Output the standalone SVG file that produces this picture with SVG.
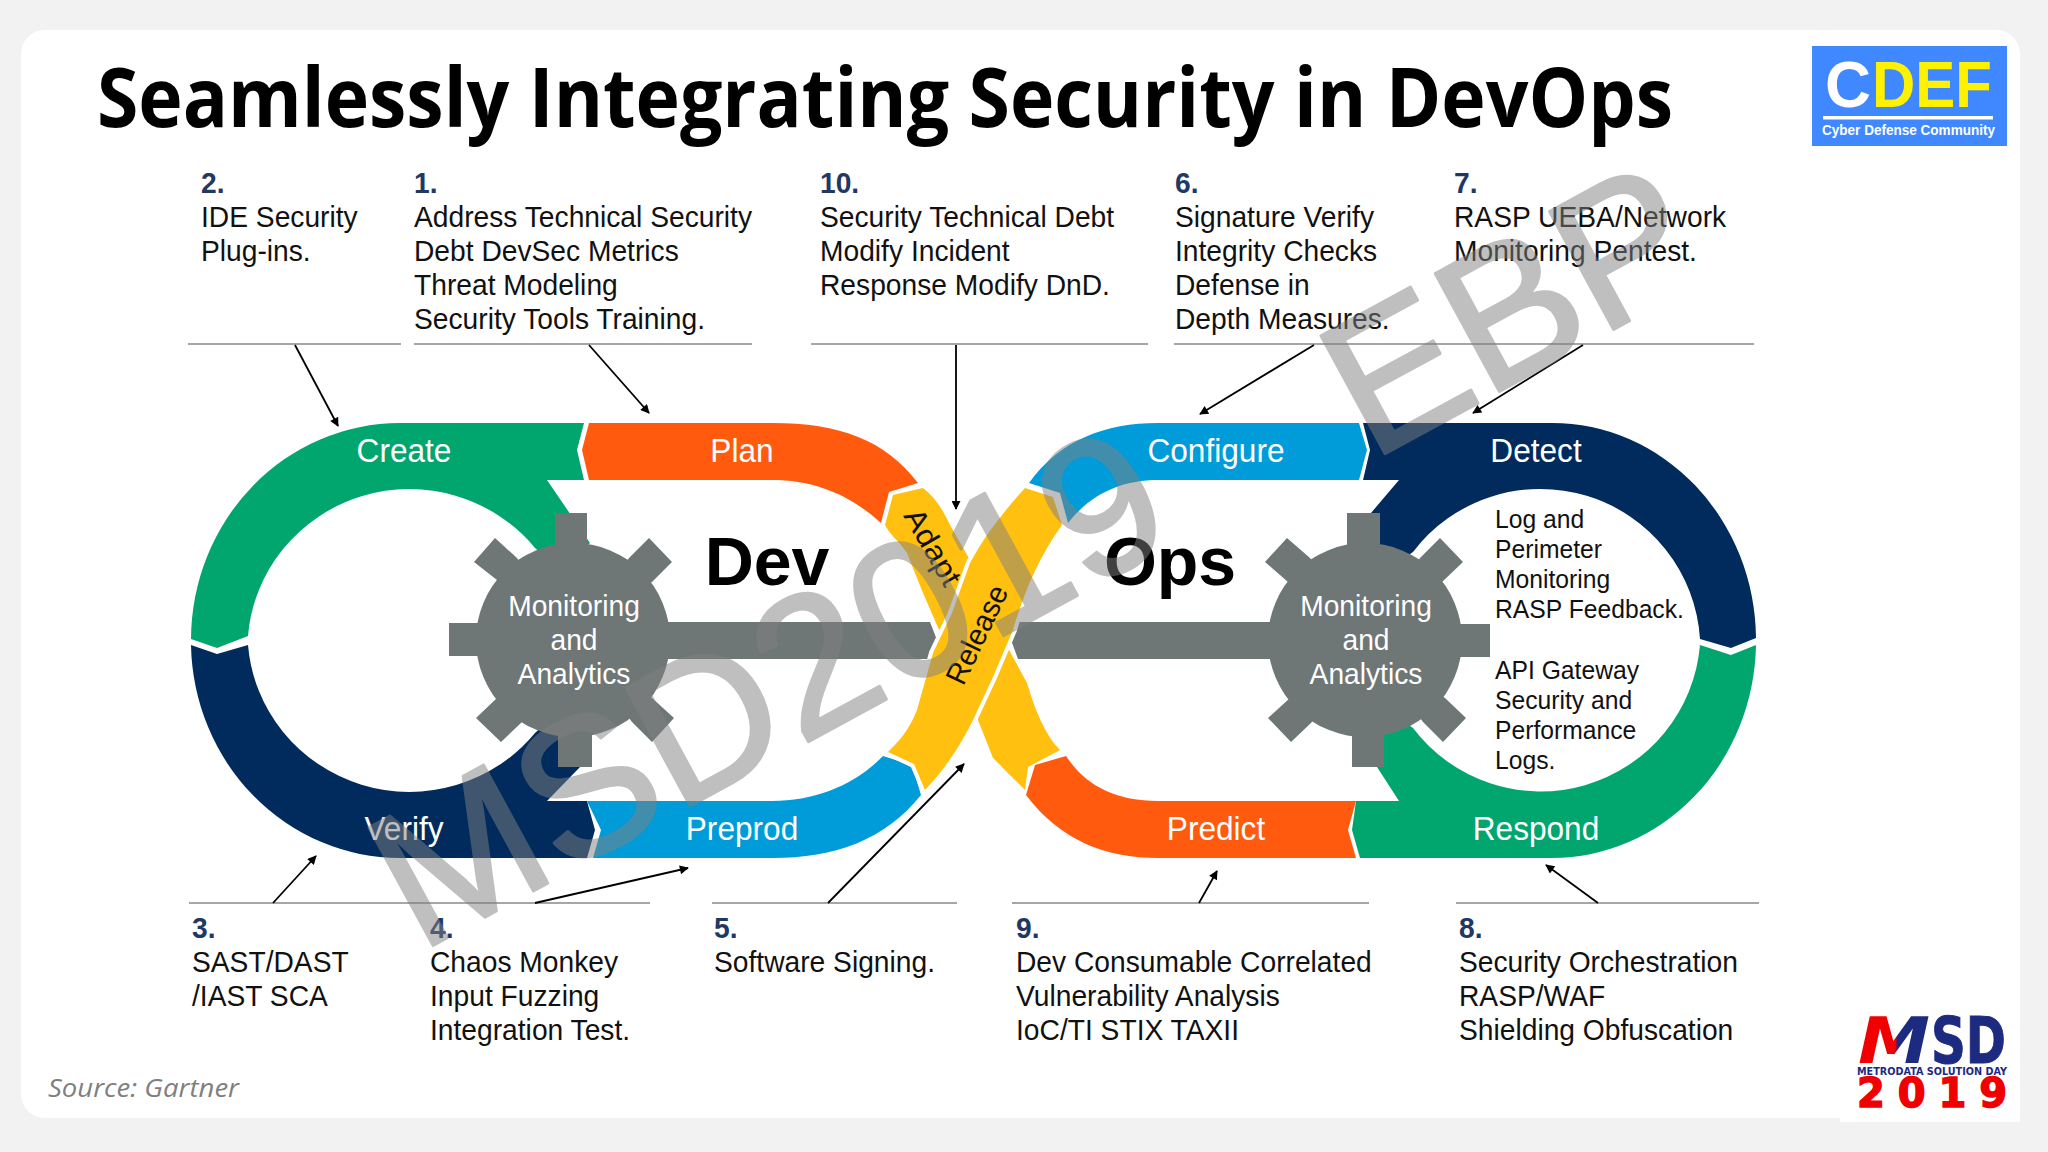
<svg xmlns="http://www.w3.org/2000/svg" width="2048" height="1152" viewBox="0 0 2048 1152">
<style>
text{font-family:"Liberation Sans",Arial,sans-serif}
.t{font-size:30px;fill:#111}
.n{font-size:30px;font-weight:700;fill:#1f3864}
.r{font-size:34px;fill:#fff;text-anchor:middle}
.g{font-size:30px;fill:#fff;text-anchor:middle}
.s{font-size:26px;fill:#111}
.b{font-size:30px;fill:#111;text-anchor:middle}
.big{font-size:68px;font-weight:700;fill:#000;text-anchor:middle}
.rule{stroke:#a6a6a6;stroke-width:2;fill:none}
.c{stroke:#000;stroke-width:1.8;fill:none;marker-end:url(#ah)}
.gear{fill:#6e7676}
</style>
<defs>
<marker id="ah" viewBox="0 0 10 10" refX="9" refY="5" markerWidth="12" markerHeight="9" orient="auto" markerUnits="userSpaceOnUse"><path d="M0,0L10,5L0,10z" fill="#000"/></marker>
<linearGradient id="mg" x1="0" y1="0" x2="1" y2="0"><stop offset=".52" stop-color="#f00000"/><stop offset=".55" stop-color="#1c2a80"/></linearGradient>
</defs>
<rect width="2048" height="1152" fill="#f2f2f2"/>
<rect x="21" y="30" width="1999" height="1088" rx="24" fill="#fff"/>
<rect x="1840" y="1000" width="180" height="122" fill="#fff"/>
<text x="97" y="127" font-size="82" font-weight="700" textLength="1576" lengthAdjust="spacingAndGlyphs" style="font-family:'Open Sans',sans-serif">Seamlessly Integrating Security in DevOps</text>
<text x="48" y="1097" font-size="25" font-style="italic" fill="#7f7f7f" textLength="191" lengthAdjust="spacingAndGlyphs" style="font-family:'Open Sans',sans-serif">Source: Gartner</text>

<g id="logo-cdef">
<rect x="1812" y="46" width="195" height="100" fill="#3f88ff"/>
<text x="1825" y="107" font-size="64" font-weight="700" fill="#fff" textLength="46" lengthAdjust="spacingAndGlyphs">C</text>
<text x="1872" y="107" font-size="64" font-weight="700" fill="#fff200" textLength="120" lengthAdjust="spacingAndGlyphs">DEF</text>
<rect x="1823" y="116" width="170" height="3.5" fill="#fff"/>
<text x="1822" y="135" font-size="14" font-weight="700" fill="#fff" textLength="173" lengthAdjust="spacingAndGlyphs">Cyber Defense Community</text>
</g>
<g id="logo-msd" style="font-weight:700">
<text x="1858" y="1063" font-size="64" font-style="italic" fill="url(#mg)" textLength="72" lengthAdjust="spacingAndGlyphs" style="font-family:'DejaVu Sans',sans-serif">M</text>
<text x="1931" y="1063" font-size="64" fill="#1c2a80" stroke="#1c2a80" textLength="75" lengthAdjust="spacingAndGlyphs" style="font-family:'DejaVu Sans',sans-serif">SD</text>
<text x="1857" y="1075" font-size="11" fill="#1c2a80" textLength="150" lengthAdjust="spacingAndGlyphs" style="font-family:'DejaVu Sans',sans-serif">METRODATA SOLUTION DAY</text>
<text x="1857" y="1107" font-size="40" fill="#f00000" stroke="#f00000" stroke-width="1.5" textLength="150" style="font-family:'DejaVu Sans',sans-serif">2019</text>
</g>

<g id="dev-ops-loop">
<g id="stage-adapt"><path fill="#ffc010" d="M893,495L923,488C935,497 943,510 950,525L970,560L1008,648L1027,683C1035,710 1045,735 1060,750L1028,767L1025,790C1010,775 1000,765 993,758L978,720L940,632L923,593L907,553C898,540 890,535 885,525Z"/></g>
<g id="stage-create"><path fill="#00a66e" d="M191,639A209,217 0 0 1 400,423L584,423L577,450L584,480L547,480L590,543L560,570L535,548A162,160 0 0 0 248,636L217,648Z"/><text class="r" transform="translate(404,462) scale(.93,1)">Create</text></g>
<g id="stage-plan"><path fill="#ff5a0d" d="M589,423L772,423C840,423 885,440 918,483L889,492L881,523C850,495 815,480 772,480L589,480L582,450Z"/><text class="r" transform="translate(742,462) scale(.93,1)">Plan</text></g>
<g id="stage-verify"><path fill="#002b5c" d="M191,645L217,654L248,645A162,160 0 0 0 535,733L560,710L580,767L547,801L587,801L595,830L587,858L400,858A209,217 0 0 1 191,645Z"/><text class="r" transform="translate(404,840) scale(.93,1)">Verify</text></g>
<g id="stage-preprod"><path fill="#009bd9" d="M587,801L772,801C815,801 855,785 883,756L912,765L921,795C885,840 835,858 772,858L593,858L601,830Z"/><text class="r" transform="translate(742,840) scale(.93,1)">Preprod</text></g>
<g id="stage-configure"><path fill="#009bd9" d="M1029,483C1060,440 1105,423 1158,423L1359,423L1367,450L1359,480L1158,480C1120,480 1090,495 1068,523L1060,493Z"/><text class="r" transform="translate(1216,462) scale(.93,1)">Configure</text></g>
<g id="stage-detect"><path fill="#002b5c" d="M1363,423L1552,423A204,217 0 0 1 1756,638L1731,648L1700,639A160,160 0 0 0 1413,552L1380,575L1371,513L1399,480L1363,480L1370,450Z"/><text class="r" transform="translate(1536,462) scale(.93,1)">Detect</text></g>
<g id="stage-respond"><path fill="#00a66e" d="M1756,645A204,217 0 0 1 1552,858L1360,858L1352,830L1356,801L1399,801L1377,767L1380,705L1413,728A160,160 0 0 0 1700,645L1731,655Z"/><text class="r" transform="translate(1536,840) scale(.93,1)">Respond</text></g>
<g id="stage-predict"><path fill="#ff5a0d" d="M1066,756L1035,765L1026,795C1060,840 1105,858 1158,858L1356,858L1348,830L1356,801L1158,801C1115,801 1085,785 1066,756Z"/><text class="r" transform="translate(1216,840) scale(.93,1)">Predict</text></g>
<g id="gear-dev">
<circle class="gear" cx="573" cy="640" r="97"/>
<path class="gear" d="M555,513H587V560H555ZM558,720H592V767H558ZM449,623H520V656H449ZM474,562L495,538L517,558L573,640L497,580ZM672,562L649,538L629,558L573,640L652,582ZM476,718L501,742L522,722L573,640L497,698ZM674,718L652,742L632,722L573,640L652,698ZM620,622H930L937,640L930,659H620Z"/>
<text class="g" transform="translate(574,616) scale(.94,1)">Monitoring</text>
<text class="g" transform="translate(574,650) scale(.94,1)">and</text>
<text class="g" transform="translate(574,684) scale(.94,1)">Analytics</text>
</g>
<g id="gear-ops">
<circle class="gear" cx="1365" cy="640" r="97"/>
<path class="gear" d="M1347,513H1380V560H1347ZM1352,720H1384V767H1352ZM1420,624H1490V657H1420ZM1265,562L1287,538L1310,558L1365,640L1288,582ZM1463,562L1440,538L1420,558L1365,640L1442,582ZM1268,718L1291,742L1312,722L1365,640L1290,698ZM1466,718L1443,742L1423,722L1365,640L1445,698ZM1320,622H1018L1011,640L1018,659H1320Z"/>
<text class="g" transform="translate(1366,616) scale(.94,1)">Monitoring</text>
<text class="g" transform="translate(1366,650) scale(.94,1)">and</text>
<text class="g" transform="translate(1366,684) scale(.94,1)">Analytics</text>
</g>
<g id="stage-release"><path fill="#ffc010" stroke="#fff" stroke-width="8" style="paint-order:stroke" d="M1025,488L1053,497L1062,525C1040,555 1024,592 1013,630L993,677L973,720C957,752 942,772 925,790L914,764L888,752C906,735 912,722 917,710L933,653L952,613L970,563C985,535 1005,510 1025,488Z"/><text class="b" textLength="106" lengthAdjust="spacingAndGlyphs" transform="translate(986,639) rotate(-64.5)">Release</text></g>
<text class="b" textLength="84" lengthAdjust="spacingAndGlyphs" transform="translate(924,552) rotate(60)">Adapt</text>
<text class="big" x="767" y="585">Dev</text>
<text class="big" x="1170" y="585">Ops</text>
<g id="detect-notes" transform="translate(1495,0) scale(.95,1)">
<text class="s" y="528">Log and</text><text class="s" y="558">Perimeter</text><text class="s" y="588">Monitoring</text><text class="s" y="618">RASP Feedback.</text>
<text class="s" y="679">API Gateway</text><text class="s" y="709">Security and</text><text class="s" y="739">Performance</text><text class="s" y="769">Logs.</text>
</g>
</g>

<g id="connectors">
<path class="rule" d="M188,344H401M414,344H752M811,344H1148M1174,344H1754M189,903H650M712,903H957M1012,903H1369M1456,903H1759"/>
<line class="c" x1="295" y1="345" x2="338" y2="426"/>
<line class="c" x1="589" y1="345" x2="649" y2="413"/>
<line class="c" x1="956" y1="345" x2="956" y2="509"/>
<line class="c" x1="1314" y1="345" x2="1200" y2="414"/>
<line class="c" x1="1583" y1="345" x2="1473" y2="413"/>
<line class="c" x1="273" y1="903" x2="316" y2="856"/>
<line class="c" x1="535" y1="903" x2="688" y2="868"/>
<line class="c" x1="828" y1="903" x2="964" y2="764"/>
<line class="c" x1="1199" y1="903" x2="1217" y2="871"/>
<line class="c" x1="1598" y1="903" x2="1546" y2="865"/>
</g>

<g id="note-2" transform="translate(201,0) scale(.94,1)"><text class="n" y="193">2.</text><text class="t" y="227">IDE Security</text><text class="t" y="261">Plug-ins.</text></g>
<g id="note-1" transform="translate(414,0) scale(.94,1)"><text class="n" y="193">1.</text><text class="t" y="227">Address Technical Security</text><text class="t" y="261">Debt DevSec Metrics</text><text class="t" y="295">Threat Modeling</text><text class="t" y="329">Security Tools Training.</text></g>
<g id="note-10" transform="translate(820,0) scale(.94,1)"><text class="n" y="193">10.</text><text class="t" y="227">Security Technical Debt</text><text class="t" y="261">Modify Incident</text><text class="t" y="295">Response Modify DnD.</text></g>
<g id="note-6" transform="translate(1175,0) scale(.94,1)"><text class="n" y="193">6.</text><text class="t" y="227">Signature Verify</text><text class="t" y="261">Integrity Checks</text><text class="t" y="295">Defense in</text><text class="t" y="329">Depth Measures.</text></g>
<g id="note-7" transform="translate(1454,0) scale(.94,1)"><text class="n" y="193">7.</text><text class="t" y="227">RASP UEBA/Network</text><text class="t" y="261">Monitoring Pentest.</text></g>
<g id="note-3" transform="translate(192,0) scale(.94,1)"><text class="n" y="938">3.</text><text class="t" y="972">SAST/DAST</text><text class="t" y="1006">/IAST SCA</text></g>
<g id="note-4" transform="translate(430,0) scale(.94,1)"><text class="n" y="938">4.</text><text class="t" y="972">Chaos Monkey</text><text class="t" y="1006">Input Fuzzing</text><text class="t" y="1040">Integration Test.</text></g>
<g id="note-5" transform="translate(714,0) scale(.94,1)"><text class="n" y="938">5.</text><text class="t" y="972">Software Signing.</text></g>
<g id="note-9" transform="translate(1016,0) scale(.94,1)"><text class="n" y="938">9.</text><text class="t" y="972">Dev Consumable Correlated</text><text class="t" y="1006">Vulnerability Analysis</text><text class="t" y="1040">IoC/TI STIX TAXII</text></g>
<g id="note-8" transform="translate(1459,0) scale(.94,1)"><text class="n" y="938">8.</text><text class="t" y="972">Security Orchestration</text><text class="t" y="1006">RASP/WAF</text><text class="t" y="1040">Shielding Obfuscation</text></g>

<g id="watermark" opacity=".5"><text font-size="195" fill="#808080" stroke="#808080" stroke-width="3" stroke-linejoin="round" transform="translate(419,953) rotate(-28.5)">MSD2019 <tspan dx="150" dy="22">EBP</tspan></text></g>
</svg>
